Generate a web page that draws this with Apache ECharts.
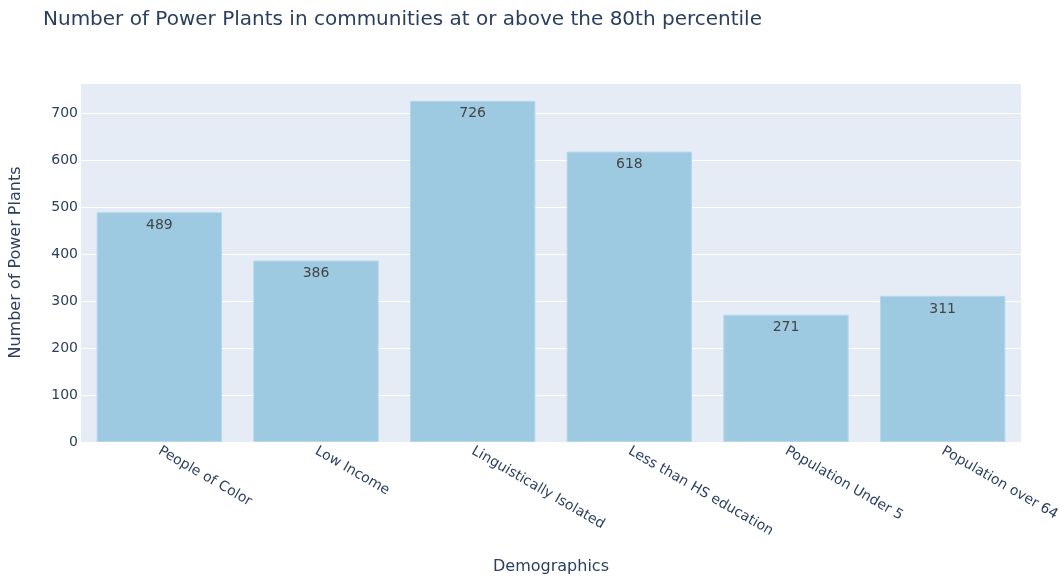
<!DOCTYPE html>
<html><head><meta charset="utf-8">
<script src="https://cdn.jsdelivr.net/npm/echarts@6/dist/echarts.min.js"></script>
<style>html,body{margin:0;padding:0;background:#fff}#c{width:1061px;height:578px}</style>
</head><body><div id="c"></div>
<script>
const categories = ["People of Color","Low Income","Linguistically Isolated","Less than HS education","Population Under 5","Population over 64"];
const values = [489, 386, 726, 618, 271, 311];
const yTicks = [0,100,200,300,400,500,600,700];

const chart = echarts.init(document.getElementById('c'));
const font = '"DejaVu Sans", sans-serif';
chart.setOption({
  animation: false,
  backgroundColor: '#ffffff',
  title: {
    text: 'Number of Power Plants in communities at or above the 80th percentile',
    left: 38, top: 5,
    textStyle: {fontFamily: font, fontSize: 20, fontWeight: 'normal', color: '#2a3f5f'}
  },
  grid: {left: 81, right: 40, top: 83, bottom: 136, outerBoundsMode: 'none', containLabel: false,
    show: true, backgroundColor: '#E5ECF6', borderWidth: 0},
  xAxis: {
    type: 'category', data: categories,
    name: 'Demographics', nameLocation: 'middle', nameGap: 117,
    nameTextStyle: {fontFamily: font, fontSize: 16, color: '#2a3f5f'},
    axisLine: {show: false}, axisTick: {show: false},
    axisLabel: {rotate: -30, margin: 8, fontFamily: font, fontSize: 14, color: '#2a3f5f', interval: 0}
  },
  yAxis: {
    type: 'value', min: 0, max: 764, interval: 100,
    name: 'Number of Power Plants', nameLocation: 'middle', nameGap: 57,
    nameTextStyle: {fontFamily: font, fontSize: 16, color: '#2a3f5f'},
    axisLine: {show: false}, axisTick: {show: false},
    axisLabel: {margin: 3, fontFamily: font, fontSize: 14, color: '#2a3f5f',
      formatter: v => yTicks.includes(v) ? String(v) : ''},
    splitLine: {lineStyle: {color: '#ffffff', width: 1}}
  },
  series: [{
    type: 'bar', data: values, barCategoryGap: '20%',
    itemStyle: {color: '#9ECAE1', borderColor: '#B4D6EA', borderWidth: 1},
    label: {show: true, position: 'insideTop', distance: 6, fontFamily: font, fontSize: 14, color: '#444444'}
  }]
});
</script></body></html>
